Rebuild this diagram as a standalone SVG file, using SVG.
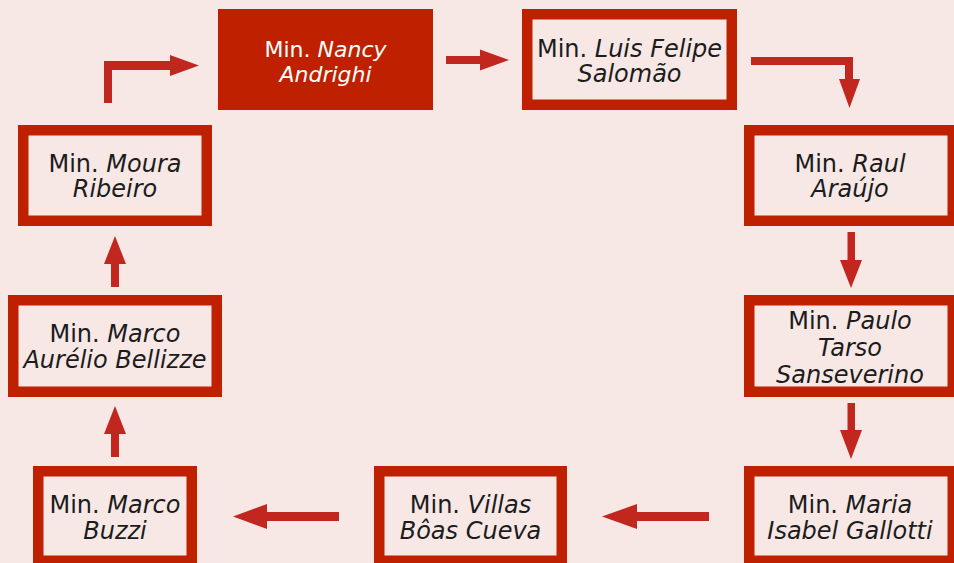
<svg xmlns="http://www.w3.org/2000/svg" width="954" height="563" viewBox="0 0 954 563">
<style>
.bg{fill:#f7e8e6}
.box{fill:#f7e8e6;stroke:#bf2100;stroke-width:10.5}
.fill{fill:#bf2100}
.arr{fill:#c1261f}
text{font-family:"DejaVu Sans","Open Sans",sans-serif;font-size:24px;font-weight:400;fill:#1c1c1c;text-anchor:middle}
.w{fill:#ffffff;font-size:22px}
.i{font-style:italic}
</style>
<rect class="bg" x="0" y="0" width="954" height="563"/>
<g id="connectors">
<polygon class="arr" points="104,103 104,61 170,61 170,55 199,65.5 170,76 170,70 112,70 112,103"/>
<polygon class="arr" points="446,56 480,56 480,49.5 509,60 480,70.5 480,64 446,64"/>
<polygon class="arr" points="751,57 853,57 853,79 860,79 849.5,108 839,79 845,79 845,65 751,65"/>
<polygon class="arr" points="847.5,232 855,232 855,260 862,260 851,288 840,260 847.5,260"/>
<polygon class="arr" points="847.5,403 855,403 855,430 862,430 851,459 840,430 847.5,430"/>
<polygon class="arr" points="709,512 709,521 637,521 637,529 602,516.5 637,504 637,512"/>
<polygon class="arr" points="339,512 339,521 267,521 267,529 233,516.5 267,504 267,512"/>
<polygon class="arr" points="111,457 119,457 119,434 126,434 115,406 104,434 111,434"/>
<polygon class="arr" points="111,287 119,287 119,264 126,264 115,236 104,264 111,264"/>
</g>
<g id="nancy">
<rect class="fill" x="218" y="9" width="215" height="101"/>
<text class="w" x="325.5" y="57">Min. <tspan class="i">Nancy</tspan></text>
<text class="w i" x="325.5" y="82">Andrighi</text>
</g>
<g id="luis">
<rect class="box" x="527.25" y="14.25" width="204.5" height="90.5"/>
<text x="629.5" y="57">Min. <tspan class="i">Luis Felipe</tspan></text>
<text class="i" x="629.5" y="82">Salomão</text>
</g>
<g id="raul">
<rect class="box" x="749.25" y="130.25" width="203.5" height="90.5"/>
<text x="850" y="172">Min. <tspan class="i">Raul</tspan></text>
<text class="i" x="850" y="197">Araújo</text>
</g>
<g id="paulo">
<rect class="box" x="749.25" y="300.25" width="203.5" height="91.5"/>
<text x="850" y="329">Min. <tspan class="i">Paulo</tspan></text>
<text class="i" x="850" y="356">Tarso</text>
<text class="i" x="850" y="383">Sanseverino</text>
</g>
<g id="maria">
<rect class="box" x="749.25" y="471.25" width="203.5" height="89.5"/>
<text x="850" y="513">Min. <tspan class="i">Maria</tspan></text>
<text class="i" x="850" y="539">Isabel Gallotti</text>
</g>
<g id="villas">
<rect class="box" x="379.25" y="471.25" width="182.5" height="89.5"/>
<text x="470.5" y="513">Min. <tspan class="i">Villas</tspan></text>
<text class="i" x="470.5" y="539">Bôas Cueva</text>
</g>
<g id="buzzi">
<rect class="box" x="38.25" y="471.25" width="153.5" height="89.5"/>
<text x="115" y="513">Min. <tspan class="i">Marco</tspan></text>
<text class="i" x="115" y="539">Buzzi</text>
</g>
<g id="bellizze">
<rect class="box" x="13.25" y="300.25" width="203.5" height="91.5"/>
<text x="115" y="342">Min. <tspan class="i">Marco</tspan></text>
<text class="i" x="115" y="368">Aurélio Bellizze</text>
</g>
<g id="moura">
<rect class="box" x="23.25" y="130.25" width="183.5" height="90.5"/>
<text x="115" y="172">Min. <tspan class="i">Moura</tspan></text>
<text class="i" x="115" y="197">Ribeiro</text>
</g>
</svg>
